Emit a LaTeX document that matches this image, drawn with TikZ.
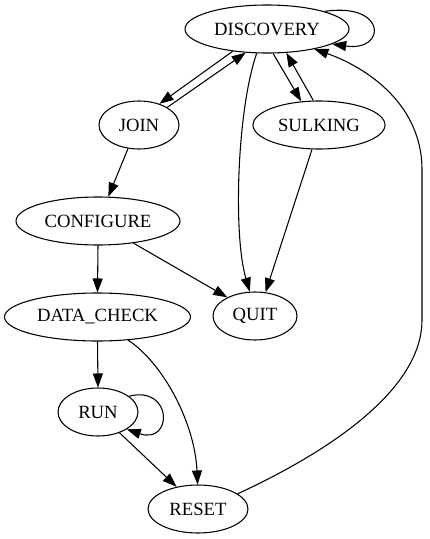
\documentclass[tikz,border=0pt]{standalone}
\usepackage{fontspec}
\setmainfont{Liberation Serif}
\usetikzlibrary{shapes.geometric,arrows.meta}
\begin{document}
\begin{tikzpicture}[x=0.75pt,y=-0.75pt,
  st/.style={draw,ellipse,inner sep=0pt,minimum height=36pt,line width=0.8pt,font=\fontsize{14}{16}\selectfont},
  edge/.style={line width=0.8pt,-{Triangle[length=10.5pt,width=7.5pt]}}]
\path[use as bounding box] (0,0) rectangle (429,539);
\node[st,minimum width=123pt] (DISCOVERY) at (267,29) {DISCOVERY};
\node[st,minimum width=60pt] (JOIN) at (139,125) {JOIN};
\node[st,minimum width=99pt] (SULKING) at (319,125) {SULKING};
\node[st,minimum width=123pt] (CONFIGURE) at (98,221) {CONFIGURE};
\node[st,minimum width=139.5pt] (DATA) at (97.5,317) {DATA\_CHECK};
\node[st,minimum width=63pt] (QUIT) at (255,316) {QUIT};
\node[st,minimum width=60pt] (RUN) at (98,412) {RUN};
\node[st,minimum width=75pt] (RESET) at (198,509) {RESET};

\draw[edge] (DISCOVERY.213) -- (JOIN.46);
\draw[edge] (JOIN.32) -- (DISCOVERY.228);
\draw[edge] (DISCOVERY.284) -- (SULKING.127);
\draw[edge] (SULKING.103) -- (DISCOVERY.309);
\draw[edge] (DISCOVERY.17) .. controls (387,2) and (387,52) .. (DISCOVERY.347);
\draw[edge] (DISCOVERY.247) .. controls (237,110) and (233,235) .. (QUIT.102);
\draw[edge] (SULKING.254) -- (QUIT.66);
\draw[edge] (JOIN.245) -- (CONFIGURE.67);
\draw[edge] (CONFIGURE.328) -- (QUIT.146);
\draw[edge] (CONFIGURE.south) -- (DATA.north);
\draw[edge] (DATA.south) -- (RUN.north);
\draw[edge] (DATA.323) .. controls (165,365) and (195,425) .. (RESET.91);
\draw[edge] (RUN.27) .. controls (173,385) and (173,445) .. (RUN.329);
\draw[edge] (RUN.316) -- (RESET.134);
\coordinate (r1) at (422,320);
\coordinate (r2) at (422,170);
\draw[edge] (RESET.21) .. controls (300,465) and (422,400) .. (r1) -- (r2)
  .. controls (422,100) and (360,65) .. (DISCOVERY.337);
\end{tikzpicture}
\end{document}
